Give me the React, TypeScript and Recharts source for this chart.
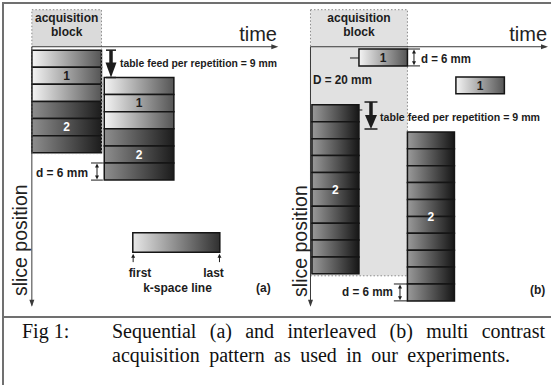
import React from 'react';
import { ComposedChart, XAxis, YAxis, ReferenceArea, ReferenceLine, ReferenceDot, Scatter } from 'recharts';

const FONT = '"Liberation Sans", Arial, Helvetica, sans-serif';
const SERIF = '"Liberation Serif", "Times New Roman", Times, serif';
const INK = '#1c1c1c';
const AXIS = '#3a3a3a';

// ---------------- data ----------------
// Panel (a) – sequential: time in acquisition-block units, slice position in mm
const contrastsPerBlockA = [1, 1, 1, 2, 2, 2];
const sliceThicknessA = 6;
const blockStartA = [0, 1.04];
const blockTopA = [1.2, 10.8];
const blockWidthA = 1;
const legendBarTime = [1.45, 2.7];
const legendBarPos = [65.3, 72.1];

// Panel (b) – interleaved: time in half-block units, slice position in mm
const sliceThicknessB = 5.93;
const contrast1StartB = [1, 3];
const contrast1TopB = [0.8, 10.6];
const contrast2StartB = [0.03, 2];
const contrast2TopB = [20.4, 29.9];
const contrast2CountB = 10;
const contrast2WidthB = 0.97;
const acquisitionBlockB = [0, 2];

const contrastLabels = ['1', '2'];

// table of repetition starts for the chart (panel a)
const repetitionTable = blockStartA.map((t, i) => ({ t, y: blockTopA[i] }));

// ---------------- helpers ----------------
const fillFor = (c: number, p: string) => `url(#${p}c${c})`;

const txt = (key: string, axis: string, x: number, y: number, s: string, o: any = {}) => (
  <ReferenceDot
    key={key}
    xAxisId={axis}
    x={x}
    y={y}
    r={0}
    ifOverflow="visible"
    shape={(p: any) => (
      <text
        x={p.cx}
        y={p.cy}
        fontFamily={o.family ?? FONT}
        fontSize={o.size ?? 12}
        fontWeight={o.weight ?? 700}
        textAnchor={o.anchor ?? 'start'}
        fill={o.fill ?? INK}
        transform={o.rotate ? `rotate(-90 ${p.cx} ${p.cy})` : undefined}
        {...(o.len ? { textLength: o.len, lengthAdjust: 'spacingAndGlyphs' } : {})}
      >
        {s}
      </text>
    )}
  />
);

const head = (key: string, axis: string, x: number, y: number, dir: string, len = 7, half = 2.5, color = AXIS) => (
  <ReferenceDot
    key={key}
    xAxisId={axis}
    x={x}
    y={y}
    r={0}
    ifOverflow="visible"
    shape={(p: any) => {
      const { cx, cy } = p;
      let pts = '';
      if (dir === 'right') pts = `${cx},${cy} ${cx - len},${cy - half} ${cx - len},${cy + half}`;
      if (dir === 'down') pts = `${cx},${cy} ${cx - half},${cy - len} ${cx + half},${cy - len}`;
      if (dir === 'up') pts = `${cx},${cy} ${cx - half},${cy + len} ${cx + half},${cy + len}`;
      return <polygon points={pts} fill={color} />;
    }}
  />
);

const seg = (key: string, axis: string, x1: number, y1: number, x2: number, y2: number, w = 1, color = AXIS) => (
  <ReferenceLine
    key={key}
    xAxisId={axis}
    segment={[{ x: x1, y: y1 }, { x: x2, y: y2 }]}
    stroke={color}
    strokeWidth={w}
    ifOverflow="visible"
  />
);

const slice = (key: string, axis: string, t1: number, t2: number, y1: number, y2: number, fill: string) => (
  <ReferenceArea
    key={key}
    xAxisId={axis}
    x1={t1}
    x2={t2}
    y1={y1}
    y2={y2}
    fill={fill}
    fillOpacity={1}
    stroke="#151515"
    strokeWidth={1.5}
    ifOverflow="visible"
  />
);

const groupLabel = (key: string, axis: string, t1: number, t2: number, y1: number, y2: number, s: string, color: string) => (
  <ReferenceArea
    key={key}
    xAxisId={axis}
    x1={t1}
    x2={t2}
    y1={y1}
    y2={y2}
    fillOpacity={0}
    strokeOpacity={0}
    ifOverflow="visible"
    label={{ value: s, position: 'center', fill: color, fontSize: 12, fontWeight: 700, fontFamily: FONT }}
  />
);

export default function App() {
  // panel (a) slices
  const slicesA: any[] = [];
  const labelsA: any[] = [];
  blockStartA.forEach((t, b) => {
    contrastsPerBlockA.forEach((c, i) => {
      const y1 = blockTopA[b] + i * sliceThicknessA;
      slicesA.push(slice(`a${b}-${i}`, 'a', t, t + blockWidthA, y1, y1 + sliceThicknessA, fillFor(c, 'a')));
    });
    contrastLabels.forEach((lab, k) => {
      const idx = contrastsPerBlockA.map((c, i) => (c === k + 1 ? i : -1)).filter((i) => i >= 0);
      const y1 = blockTopA[b] + idx[0] * sliceThicknessA;
      const y2 = blockTopA[b] + (idx[idx.length - 1] + 1) * sliceThicknessA;
      labelsA.push(groupLabel(`la${b}-${k}`, 'a', t, t + blockWidthA, y1, y2, lab, k === 0 ? INK : '#ffffff'));
    });
  });

  // panel (b) slices
  const slicesB: any[] = [];
  const labelsB: any[] = [];
  contrast1StartB.forEach((t, i) => {
    const y1 = contrast1TopB[i];
    slicesB.push(slice(`b1-${i}`, 'b', t, t + 1, y1, y1 + sliceThicknessB, fillFor(1, 'b')));
    labelsB.push(groupLabel(`lb1-${i}`, 'b', t, t + 1, y1, y1 + sliceThicknessB, contrastLabels[0], INK));
  });
  contrast2StartB.forEach((t, i) => {
    for (let k = 0; k < contrast2CountB; k++) {
      const y1 = contrast2TopB[i] + k * sliceThicknessB;
      slicesB.push(slice(`b2-${i}-${k}`, 'b', t, t + contrast2WidthB, y1, y1 + sliceThicknessB, fillFor(2, 'b')));
    }
    labelsB.push(
      groupLabel(`lb2-${i}`, 'b', t, t + contrast2WidthB, contrast2TopB[i], contrast2TopB[i] + contrast2CountB * sliceThicknessB, contrastLabels[1], '#ffffff')
    );
  });

  const bottomB = contrast2TopB[1] + contrast2CountB * sliceThicknessB;
  const lastTopB = bottomB - sliceThicknessB;
  const lastTopA = blockTopA[1] + 5 * sliceThicknessA;
  const bottomA = blockTopA[1] + 6 * sliceThicknessA;

  return (
    <div style={{ position: 'absolute', left: 0, top: 0, width: 551, height: 385, background: '#fff', overflow: 'hidden' }}>
      <div style={{ position: 'absolute', left: 0, top: 0 }}>
        <ComposedChart width={551} height={320} data={repetitionTable} margin={{ top: 0, right: 0, bottom: 0, left: 0 }}>
          <defs>
            <linearGradient id="ac1" x1="0" y1="0" x2="1" y2="0">
              <stop offset="0%" stopColor="#f4f4f4" />
              <stop offset="100%" stopColor="#555555" />
            </linearGradient>
            <linearGradient id="ac2" x1="0" y1="0" x2="1" y2="0">
              <stop offset="0%" stopColor="#8e8e8e" />
              <stop offset="100%" stopColor="#1c1c1c" />
            </linearGradient>
            <linearGradient id="bc1" x1="0" y1="0" x2="1" y2="0">
              <stop offset="0%" stopColor="#f4f4f4" />
              <stop offset="100%" stopColor="#555555" />
            </linearGradient>
            <linearGradient id="bc2" x1="0" y1="0" x2="1" y2="0">
              <stop offset="0%" stopColor="#9a9a9a" />
              <stop offset="100%" stopColor="#161616" />
            </linearGradient>
            <linearGradient id="leg" x1="0" y1="0" x2="1" y2="0">
              <stop offset="0%" stopColor="#e8e8e8" />
              <stop offset="100%" stopColor="#303030" />
            </linearGradient>
          </defs>
          <XAxis xAxisId="a" dataKey="t" type="number" domain={[-0.4575, 7.457]} hide allowDataOverflow height={0} />
          <XAxis xAxisId="b" dataKey="t" type="number" domain={[-6.406, 4.962]} hide allowDataOverflow height={0} />
          <YAxis dataKey="y" type="number" domain={[-16.406, 95.91]} reversed hide allowDataOverflow width={0} />
          <Scatter xAxisId="a" data={repetitionTable} dataKey="y" fillOpacity={0} shape={() => <g />} isAnimationActive={false} />

          {/* ---------- panel (a) ---------- */}
          <ReferenceArea xAxisId="a" x1={0} x2={1} y1={-13} y2={0} fill="#dadada" fillOpacity={1} strokeOpacity={0} ifOverflow="visible" />
          {slicesA}
          <ReferenceArea xAxisId="a" x1={0} x2={1} y1={-13} y2={37.5} fillOpacity={0} stroke="#8a8a8a" strokeDasharray="1.5 2" ifOverflow="visible" />
          {labelsA}
          <ReferenceArea
            xAxisId="a"
            x1={legendBarTime[0]}
            x2={legendBarTime[1]}
            y1={legendBarPos[0]}
            y2={legendBarPos[1]}
            fill="url(#leg)"
            fillOpacity={1}
            stroke="#151515"
            strokeWidth={1.5}
            ifOverflow="visible"
          />
          {seg('ax-a-t', 'a', 0, 0, 3.5, 0)}
          {seg('ax-a-y', 'a', 0, 0, 0, 90.8)}
          {head('ah-a-t', 'a', 3.54, 0, 'right')}
          {head('ah-a-y', 'a', 0, 91.3, 'down')}
          {seg('tf-a-c1', 'a', 1.065, blockTopA[0], 1.209, blockTopA[0], 1.5, INK)}
          {seg('tf-a-s', 'a', 1.137, blockTopA[0], 1.137, blockTopA[1] - 4.5, 3.5, INK)}
          {head('tf-a-h', 'a', 1.137, blockTopA[1], 'down', 15, 5.5, INK)}
          {seg('tf-a-c2', 'a', 1.065, blockTopA[1], 1.209, blockTopA[1], 1.5, INK)}
          {seg('d-a-c1', 'a', 0.85, lastTopA, 1.02, lastTopA, 1, INK)}
          {seg('d-a-c2', 'a', 0.85, bottomA, 1.02, bottomA, 1, INK)}
          {seg('d-a-s', 'a', 0.936, lastTopA + 1, 0.936, bottomA - 1, 1, INK)}
          {head('d-a-h1', 'a', 0.936, lastTopA + 0.2, 'up', 4, 2, INK)}
          {head('d-a-h2', 'a', 0.936, bottomA - 0.2, 'down', 4, 2, INK)}
          {seg('lg-a1', 'a', legendBarTime[0] + 0.005, 75.6, legendBarTime[0] + 0.005, 73.6, 1, INK)}
          {head('lg-h1', 'a', legendBarTime[0] + 0.005, 72.7, 'up', 4, 2, INK)}
          {seg('lg-a2', 'a', legendBarTime[1] - 0.005, 75.6, legendBarTime[1] - 0.005, 73.6, 1, INK)}
          {head('lg-h2', 'a', legendBarTime[1] - 0.005, 72.7, 'up', 4, 2, INK)}
          {txt('t-a-time', 'a', 3.521, -2.0, 'time', { size: 20, weight: 400, anchor: 'end', fill: '#222' })}
          {txt('t-a-acq', 'a', 0.5, -8.7, 'acquisition', { anchor: 'middle' })}
          {txt('t-a-blk', 'a', 0.5, -3.6, 'block', { anchor: 'middle' })}
          {txt('t-a-slice', 'a', -0.0625, 87.5, 'slice position', { size: 19.5, weight: 400, rotate: true, fill: '#222' })}
          {txt('t-a-tf', 'a', 1.266, 7.11, 'table feed per repetition = 9 mm', { size: 11, len: 157 })}
          {txt('t-a-d', 'a', 0.0596, 45.72, 'd = 6 mm', { len: 52 })}
          {txt('t-a-first', 'a', 1.553, 80.82, 'first', { anchor: 'middle' })}
          {txt('t-a-last', 'a', 2.609, 80.82, 'last', { anchor: 'middle' })}
          {txt('t-a-k', 'a', 2.092, 86.08, 'k-space line', { anchor: 'middle' })}
          {txt('t-a-lab', 'a', 3.22, 86.08, '(a)')}

          {/* ---------- panel (b) ---------- */}
          <ReferenceArea
            xAxisId="b"
            x1={acquisitionBlockB[0]}
            x2={acquisitionBlockB[1]}
            y1={-13}
            y2={80.4}
            fill="#e1e1e1"
            fillOpacity={1}
            stroke="#8a8a8a"
            strokeDasharray="1.5 2"
            ifOverflow="visible"
          />
          {slicesB}
          {labelsB}
          {seg('ax-b-t', 'b', 0, 0, 4.86, 0)}
          {seg('ax-b-y', 'b', 0, 0, 0, 90.8)}
          {head('ah-b-t', 'b', 4.9, 0, 'right')}
          {head('ah-b-y', 'b', 0, 91.3, 'down')}
          {seg('tick-b1', 'b', 0.815, 3.95, 1.0, 3.95, 1, INK)}
          {seg('tick-b2', 'b', 0.97, 22.2, 1.07, 22.2, 1, INK)}
          {seg('d-b-c1', 'b', 2.0, contrast1TopB[0], 2.26, contrast1TopB[0], 1, INK)}
          {seg('d-b-c2', 'b', 2.0, contrast1TopB[0] + sliceThicknessB, 2.26, contrast1TopB[0] + sliceThicknessB, 1, INK)}
          {seg('d-b-s', 'b', 2.135, contrast1TopB[0] + 1, 2.135, contrast1TopB[0] + sliceThicknessB - 1, 1, INK)}
          {head('d-b-h1', 'b', 2.135, contrast1TopB[0] + 0.2, 'up', 4, 2, INK)}
          {head('d-b-h2', 'b', 2.135, contrast1TopB[0] + sliceThicknessB - 0.2, 'down', 4, 2, INK)}
          {seg('tf-b-c1', 'b', 1.114, 19.4, 1.382, 19.4, 1.5, INK)}
          {seg('tf-b-s', 'b', 1.248, 19.4, 1.248, 25.0, 3.5, INK)}
          {head('tf-b-h', 'b', 1.248, 28.87, 'down', 14, 6, INK)}
          {seg('tf-b-c2', 'b', 1.114, 28.87, 1.382, 28.87, 1.5, INK)}
          {seg('d-b2-c1', 'b', 1.72, lastTopB, 2.0, lastTopB, 1, INK)}
          {seg('d-b2-c2', 'b', 1.72, bottomB, 2.0, bottomB, 1, INK)}
          {seg('d-b2-s', 'b', 1.846, lastTopB + 1, 1.846, bottomB - 1, 1, INK)}
          {head('d-b2-h1', 'b', 1.846, lastTopB + 0.2, 'up', 4, 2, INK)}
          {head('d-b2-h2', 'b', 1.846, bottomB - 0.2, 'down', 4, 2, INK)}
          {txt('t-b-time', 'b', 4.88, -2.0, 'time', { size: 20, weight: 400, anchor: 'end', fill: '#222' })}
          {txt('t-b-acq', 'b', 1, -8.7, 'acquisition', { anchor: 'middle' })}
          {txt('t-b-blk', 'b', 1, -3.6, 'block', { anchor: 'middle' })}
          {txt('t-b-slice', 'b', -0.072, 87.8, 'slice position', { size: 19.5, weight: 400, rotate: true, fill: '#222' })}
          {txt('t-b-d1', 'b', 2.28, 5.71, 'd = 6 mm', { len: 50 })}
          {txt('t-b-D', 'b', 0.0515, 13.08, 'D = 20 mm', { len: 59 })}
          {txt('t-b-tf', 'b', 1.434, 26.07, 'table feed per repetition = 9 mm', { size: 10.5, len: 160 })}
          {txt('t-b-d2', 'b', 0.65, 87.49, 'd = 6 mm', { len: 51 })}
          {txt('t-b-lab', 'b', 4.528, 86.79, '(b)')}
        </ComposedChart>
      </div>

      {/* frame and caption */}
      <div style={{ position: 'absolute', left: 2, top: 2, width: 549, height: 383, borderTop: '2px solid #707070', borderLeft: '2px solid #707070', boxSizing: 'border-box' }} />
      <div style={{ position: 'absolute', left: 2, top: 316, width: 549, height: 2, background: '#707070' }} />
      <svg style={{ position: 'absolute', left: 0, top: 0 }} width={551} height={385}>
        <text x={22} y={338} fontFamily={SERIF} fontSize={20} fill="#111">Fig 1:</text>
        <text x={112} y={338} fontFamily={SERIF} fontSize={20} fill="#111" style={{ wordSpacing: '8.3px' }}>
          Sequential (a) and interleaved (b) multi contrast
        </text>
        <text x={112} y={362} fontFamily={SERIF} fontSize={20} fill="#111" style={{ wordSpacing: '4.4px' }}>
          acquisition pattern as used in our experiments.
        </text>
      </svg>
    </div>
  );
}
